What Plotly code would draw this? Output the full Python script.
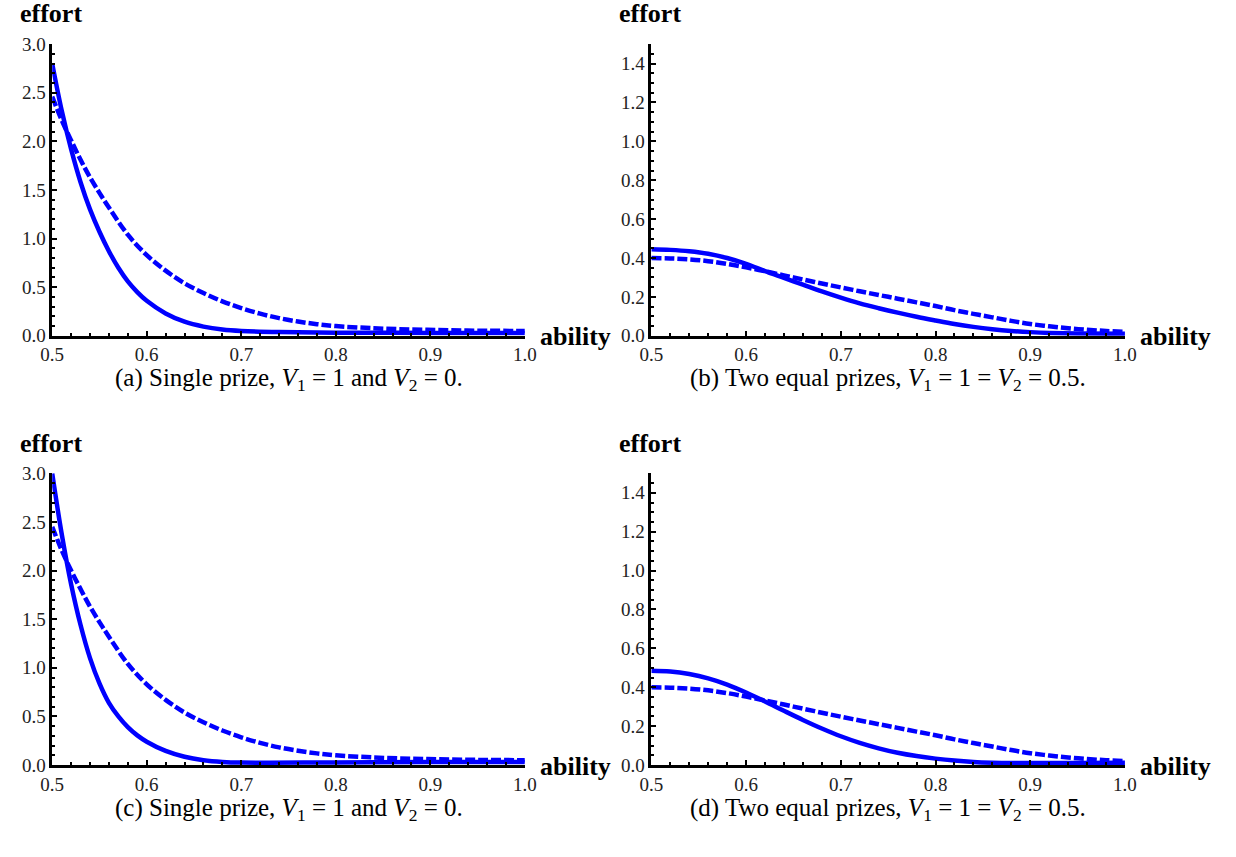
import plotly.graph_objects as go

W, H = 1236, 857

# ---- data -------------------------------------------------------------
# (a) single prize
a_x_solid = [0.50, 0.51, 0.52, 0.53, 0.54, 0.55, 0.56, 0.57, 0.58, 0.59, 0.60,
             0.62, 0.64, 0.66, 0.68, 0.70, 0.74, 0.80, 0.90, 1.00]
a_y_solid = [2.80, 2.32, 1.92, 1.58, 1.30, 1.07, 0.87, 0.70, 0.56, 0.45, 0.36,
             0.23, 0.145, 0.095, 0.065, 0.05, 0.038, 0.032, 0.03, 0.03]
a_x_dash = [0.50, 0.51, 0.52, 0.53, 0.54, 0.55, 0.56, 0.58, 0.60, 0.62, 0.64,
            0.66, 0.68, 0.70, 0.72, 0.74, 0.76, 0.78, 0.80, 0.84, 0.88, 0.92,
            0.96, 1.00]
a_y_dash = [2.46, 2.22, 2.01, 1.81, 1.63, 1.47, 1.32, 1.04, 0.83, 0.67, 0.54,
            0.44, 0.355, 0.285, 0.228, 0.182, 0.147, 0.12, 0.10, 0.078, 0.065,
            0.057, 0.052, 0.05]

# (b) two equal prizes
b_x_solid = [0.50, 0.52, 0.54, 0.56, 0.58, 0.60, 0.62, 0.64, 0.66, 0.68, 0.70,
             0.72, 0.74, 0.76, 0.78, 0.80, 0.82, 0.84, 0.86, 0.88, 0.90, 0.92,
             0.95, 1.00]
b_y_solid = [0.445, 0.442, 0.435, 0.422, 0.400, 0.370, 0.333, 0.298, 0.263,
             0.228, 0.196, 0.167, 0.142, 0.119, 0.098, 0.079, 0.061, 0.046,
             0.034, 0.025, 0.019, 0.015, 0.012, 0.01]
b_x_dash = [0.50, 0.52, 0.54, 0.56, 0.58, 0.60, 0.62, 0.64, 0.66, 0.68, 0.70,
            0.72, 0.74, 0.76, 0.78, 0.80, 0.82, 0.84, 0.86, 0.88, 0.90, 0.92,
            0.94, 0.96, 0.98, 1.00]
b_y_dash = [0.400, 0.398, 0.393, 0.384, 0.370, 0.352, 0.332, 0.311, 0.290,
            0.269, 0.249, 0.229, 0.210, 0.191, 0.172, 0.153, 0.132, 0.113,
            0.095, 0.077, 0.061, 0.049, 0.039, 0.031, 0.025, 0.02]

# (c) single prize
c_x_solid = [0.50, 0.51, 0.52, 0.53, 0.54, 0.55, 0.56, 0.57, 0.58, 0.59, 0.60,
             0.62, 0.64, 0.66, 0.68, 0.70, 0.80, 0.90, 1.00]
c_y_solid = [3.00, 2.38, 1.86, 1.44, 1.10, 0.84, 0.64, 0.50, 0.39, 0.305, 0.24,
             0.145, 0.085, 0.05, 0.032, 0.025, 0.027, 0.03, 0.03]
c_x_dash = [0.50, 0.51, 0.52, 0.53, 0.54, 0.55, 0.56, 0.58, 0.60, 0.62, 0.64,
            0.66, 0.68, 0.70, 0.72, 0.74, 0.76, 0.78, 0.80, 0.84, 0.88, 0.92,
            0.96, 1.00]
c_y_dash = [2.45, 2.21, 2.00, 1.81, 1.63, 1.47, 1.32, 1.04, 0.83, 0.67, 0.54,
            0.44, 0.355, 0.285, 0.228, 0.182, 0.147, 0.12, 0.10, 0.078, 0.065,
            0.057, 0.052, 0.05]

# (d) two equal prizes
d_x_solid = [0.50, 0.52, 0.54, 0.56, 0.58, 0.60, 0.62, 0.64, 0.66, 0.68, 0.70,
             0.72, 0.74, 0.76, 0.78, 0.80, 0.82, 0.84, 0.86, 0.88, 0.90, 0.95,
             1.00]
d_y_solid = [0.485, 0.481, 0.468, 0.446, 0.414, 0.373, 0.327, 0.279, 0.232,
             0.188, 0.148, 0.114, 0.086, 0.063, 0.046, 0.033, 0.023, 0.016,
             0.012, 0.01, 0.01, 0.011, 0.012]
d_x_dash = [0.50, 0.52, 0.54, 0.56, 0.58, 0.60, 0.62, 0.64, 0.66, 0.68, 0.70,
            0.72, 0.74, 0.76, 0.78, 0.80, 0.82, 0.84, 0.86, 0.88, 0.90, 0.92,
            0.94, 0.96, 0.98, 1.00]
d_y_dash = [0.400, 0.398, 0.393, 0.384, 0.370, 0.352, 0.332, 0.311, 0.290,
            0.269, 0.249, 0.229, 0.210, 0.191, 0.172, 0.153, 0.132, 0.113,
            0.095, 0.077, 0.061, 0.049, 0.039, 0.031, 0.025, 0.02]

captions = [
    "(a) Single prize, <i>V</i><sub>1</sub> = 1 and <i>V</i><sub>2</sub> = 0.",
    "(b) Two equal prizes, <i>V</i><sub>1</sub> = 1 = <i>V</i><sub>2</sub> = 0.5.",
    "(c) Single prize, <i>V</i><sub>1</sub> = 1 and <i>V</i><sub>2</sub> = 0.",
    "(d) Two equal prizes, <i>V</i><sub>1</sub> = 1 = <i>V</i><sub>2</sub> = 0.5.",
]

# ---- panel geometry (pixels) -----------------------------------------
# left, right, top, bottom of each plotting area
boxes = [
    (41, 523, 35, 334),
    (652, 1135, 35, 334),
    (41, 523, 475, 774),
    (652, 1135, 475, 774),
]
y_ranges = [[0, 3], [0, 1.5], [0, 3], [0, 1.5]]
y_dticks = [0.5, 0.2, 0.5, 0.2]
y_minor = [0.1, 0.05, 0.1, 0.05]
caption_y = [379, 379, 820, 820]

series = [
    (a_x_solid, a_y_solid, a_x_dash, a_y_dash),
    (b_x_solid, b_y_solid, b_x_dash, b_y_dash),
    (c_x_solid, c_y_solid, c_x_dash, c_y_dash),
    (d_x_solid, d_y_solid, d_x_dash, d_y_dash),
]

BLUE = "#0000ff"
SERIF = "Liberation Serif"


def px(x):
    return x / W


def py(y):
    return 1 - y / H


fig = go.Figure()
layout = dict(
    width=W, height=H,
    margin=dict(l=0, r=0, t=0, b=0),
    paper_bgcolor="white", plot_bgcolor="white",
    showlegend=False,
    font=dict(family=SERIF, color="#222222", size=19),
)
annotations = []

for i, (xs, ys, xd, yd) in enumerate(series):
    n = "" if i == 0 else str(i + 1)
    xa, ya = "x" + n, "y" + n
    fig.add_trace(go.Scatter(x=xd, y=yd, mode="lines", xaxis=xa, yaxis=ya,
                             line=dict(color=BLUE, width=4.5, dash="10px,3px",
                                       shape="spline", smoothing=1)))
    fig.add_trace(go.Scatter(x=xs, y=ys, mode="lines", xaxis=xa, yaxis=ya,
                             line=dict(color=BLUE, width=4.5,
                                       shape="spline", smoothing=1)))
    l, r, t, b = boxes[i]
    axis_common = dict(
        showline=True, linecolor="black", linewidth=2.5,
        ticks="inside", ticklen=5, tickwidth=2, tickcolor="black",
        showgrid=False, zeroline=False, tickformat=".1f",
        tickfont=dict(family=SERIF, size=19, color="#222222"),
    )
    layout["xaxis" + n] = dict(
        axis_common, domain=[px(l), px(r)], range=[0.5, 1.0], dtick=0.1,
        tick0=0.5, anchor=ya,
        minor=dict(dtick=0.02, ticks="inside", ticklen=3, tickwidth=2,
                   tickcolor="black", showgrid=False),
    )
    layout["yaxis" + n] = dict(
        axis_common, domain=[py(b), py(t)], range=y_ranges[i],
        dtick=y_dticks[i], tick0=0, anchor=xa,
        minor=dict(dtick=y_minor[i], ticks="inside", ticklen=3, tickwidth=2,
                   tickcolor="black", showgrid=False),
    )
    # axis titles at the ends of the axes
    annotations.append(dict(
        text="<b>effort</b>", xref="paper", yref="paper",
        x=px(l - 1), y=py(t - 31), xanchor="center", yanchor="middle",
        showarrow=False, font=dict(family=SERIF, size=26, color="black")))
    annotations.append(dict(
        text="<b>ability</b>", xref="paper", yref="paper",
        x=px(r + 13), y=py(b + 1), xanchor="left", yanchor="middle",
        showarrow=False, font=dict(family=SERIF, size=26, color="black")))
    annotations.append(dict(
        text=captions[i], xref="paper", yref="paper",
        x=px((l + r) / 2), y=py(caption_y[i]), xanchor="center",
        yanchor="middle", showarrow=False,
        font=dict(family=SERIF, size=25, color="black")))

layout["annotations"] = annotations
fig.update_layout(**layout)
fig.write_html("out.html")
